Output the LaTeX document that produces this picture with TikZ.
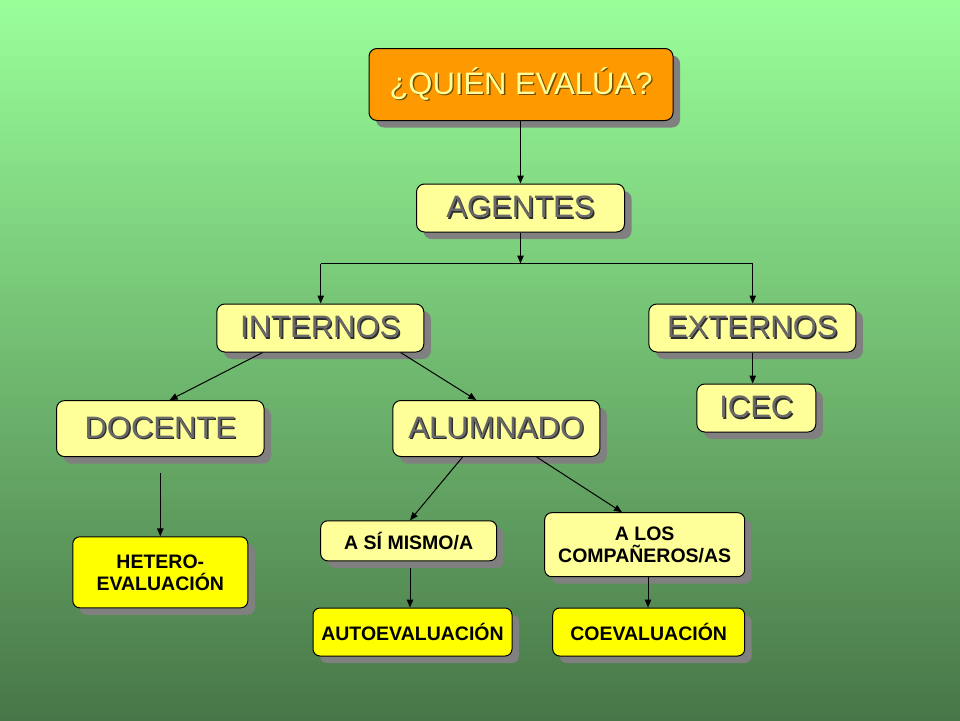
\documentclass[tikz,border=0pt]{standalone}
\usepackage{fontspec}
\setmainfont{Liberation Sans}
\usetikzlibrary{shadows,arrows.meta,calc}
\definecolor{bgtop}{RGB}{153,255,153}
\definecolor{bgbot}{RGB}{72,118,72}
\definecolor{paleyel}{RGB}{255,255,153}
\definecolor{brightyel}{RGB}{255,255,0}
\definecolor{orangebox}{RGB}{255,153,0}
\definecolor{shadowgray}{RGB}{128,128,128}
\definecolor{txtgray}{RGB}{104,104,104}
\definecolor{txtdark}{RGB}{46,46,46}
\definecolor{txtbrown}{RGB}{110,75,0}
\newcommand{\embtxt}[3]{\rlap{\kern1.4pt\raisebox{-1.4pt}{\textcolor{#2}{#1}}}\textcolor{#3}{#1}}
\tikzset{
  boxbase/.style={draw=black, line width=1pt, rounded corners=8pt, inner sep=0pt,
    drop shadow={shadow xshift=7pt, shadow yshift=-7pt, fill=shadowgray, opacity=1}},
  bigbox/.style={boxbase, fill=paleyel, font=\fontsize{31}{36}\selectfont},
  topbox/.style={boxbase, fill=orangebox, font=\fontsize{31}{36}\selectfont},
  smallbox/.style={boxbase, rounded corners=7pt, fill=paleyel, align=center,
    font=\fontsize{19.5}{22}\selectfont\bfseries},
  yelbox/.style={boxbase, rounded corners=7pt, fill=brightyel, align=center,
    font=\fontsize{19.5}{22}\selectfont\bfseries},
  conn/.style={draw=black, line width=1pt, -{Triangle[length=8pt,width=6.5pt]}},
  plain/.style={draw=black, line width=1pt}
}
\begin{document}
\begin{tikzpicture}[x=1pt,y=-1pt]
\useasboundingbox (0,0) rectangle (960,720);
\shade[top color=bgtop, bottom color=bgbot] (0,0) rectangle (960,720);

\node[topbox, minimum width=304pt, minimum height=72pt] (quien) at (521,84.5)
  {\embtxt{¿QUIÉN EVALÚA?}{txtbrown}{paleyel}};
\node[bigbox, minimum width=208pt, minimum height=48pt] (agentes) at (520.5,208)
  {\embtxt{AGENTES}{txtdark}{txtgray}};
\node[bigbox, minimum width=207pt, minimum height=48pt] (internos) at (320.3,328)
  {\embtxt{INTERNOS}{txtdark}{txtgray}};
\node[bigbox, minimum width=207pt, minimum height=48pt] (externos) at (752.3,328)
  {\embtxt{EXTERNOS}{txtdark}{txtgray}};
\node[bigbox, minimum width=119pt, minimum height=48pt] (icec) at (756.3,408)
  {\embtxt{ICEC}{txtdark}{txtgray}};
\node[bigbox, minimum width=207.5pt, minimum height=56pt] (docente) at (160.3,428.6)
  {\embtxt{DOCENTE}{txtdark}{txtgray}};
\node[bigbox, minimum width=207pt, minimum height=56pt] (alumnado) at (496.3,428.5)
  {\embtxt{ALUMNADO}{txtdark}{txtgray}};
\node[yelbox, minimum width=175pt, minimum height=71pt] (hetero) at (160.3,572.3)
  {HETERO-\\EVALUACIÓN};
\node[smallbox, minimum width=176pt, minimum height=40pt] (asi) at (408.7,540.8)
  {A SÍ MISMO/A};
\node[smallbox, minimum width=200pt, minimum height=64pt] (alos) at (644.7,544.7)
  {A LOS\\COMPAÑEROS/AS};
\node[yelbox, minimum width=199pt, minimum height=48pt] (auto) at (412.5,632)
  {AUTOEVALUACIÓN};
\node[yelbox, minimum width=192pt, minimum height=48pt] (coev) at (648.7,632)
  {COEVALUACIÓN};

% connectors
\draw[conn] (agentes.north |- quien.south) -- (agentes.north);
\coordinate (junc) at (520.5,263.5);
\coordinate (jl) at (320.7,263.5);
\coordinate (jr) at (752.7,263.5);
\draw[conn] (agentes.south) -- (junc);
\draw[plain] (jl) -- (jr);
\draw[conn] (jl) -- (jl |- internos.north);
\draw[conn] (jr) -- (jr |- externos.north);
\draw[conn] (jr |- externos.south) -- (jr |- icec.north);
\draw[conn] ([xshift=46.3pt]internos.south west) -- ([xshift=113.5pt]docente.north west);
\draw[conn] ([xshift=184.3pt]internos.south west) -- ([xshift=84pt]alumnado.north west);
\draw[conn] ([yshift=-16pt]docente.south) -- (hetero.north);
\draw[conn] ([xshift=70.3pt]alumnado.south west) -- ([xshift=1.3pt]asi.north);
\draw[conn] ([xshift=144.3pt]alumnado.south west) -- ([xshift=-22.7pt]alos.north);
\coordinate (al) at (410,561);
\draw[conn] ([yshift=-7pt]al) -- (al |- auto.north);
\coordinate (ar) at (648,576.7);
\draw[conn] (ar) -- (ar |- coev.north);
\end{tikzpicture}
\end{document}
